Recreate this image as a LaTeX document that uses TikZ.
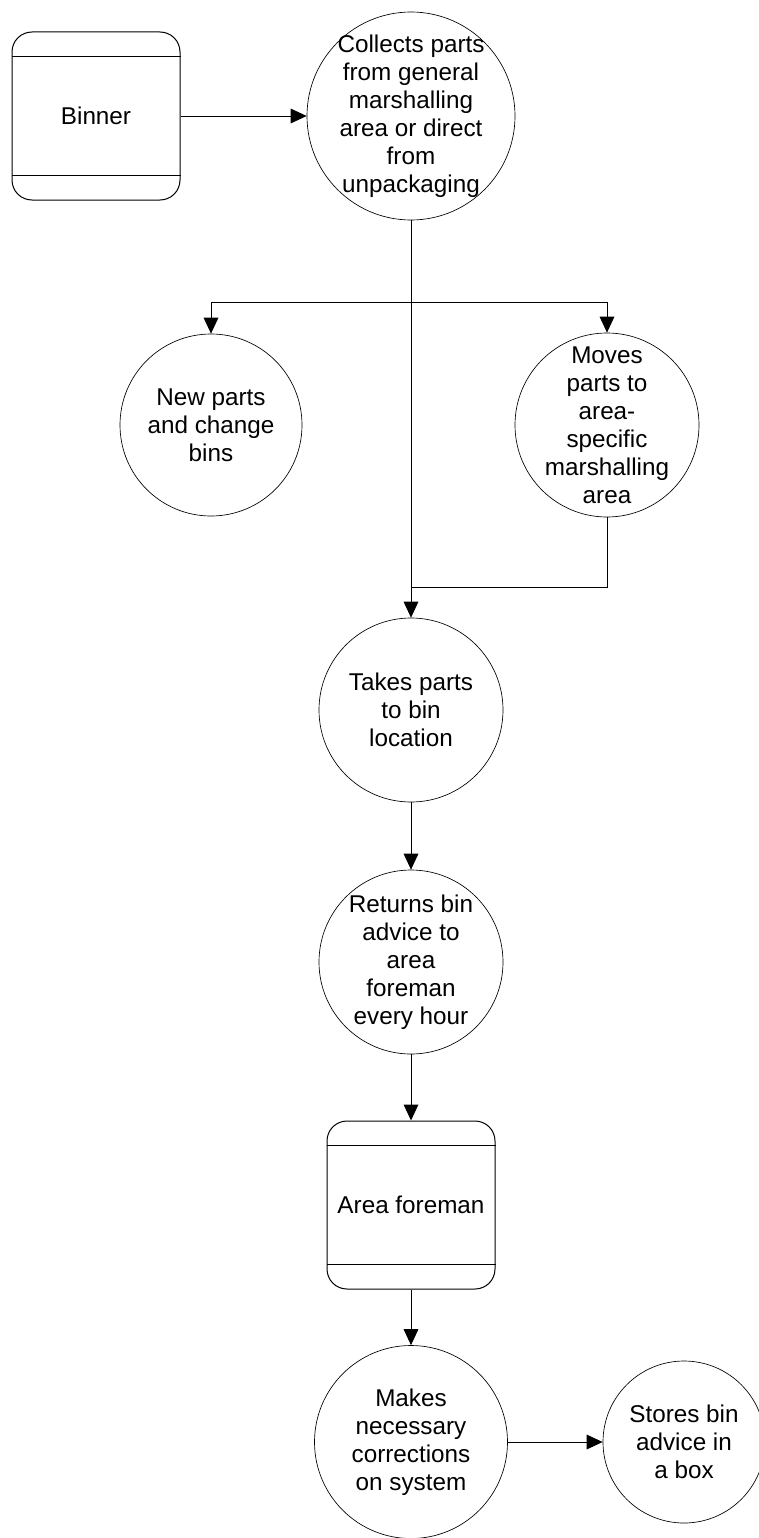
\documentclass[tikz,border=0pt]{standalone}
\usepackage{fontspec}
\setmainfont{Liberation Sans}
\usetikzlibrary{arrows.meta}

\begin{document}
\begin{tikzpicture}[
x=0.75pt, y=-0.75pt,
every node/.style={align=center, font=\fontsize{18.2}{21}\selectfont},
proc/.style={draw, circle, line width=0.5pt, inner sep=-14pt, minimum size=#1},
ext/.style={draw, rounded corners=15pt, line width=0.75pt, minimum width=126pt, minimum height=126pt, inner sep=0pt},
flow/.style={-{Triangle[length=12pt, width=11pt]}, line width=0.75pt}
]
\useasboundingbox (0,0) rectangle (759,1538);

\node[ext] (binner) at (96,116) {Binner};
\node[proc=156pt] (collect) at (411,116) {Collects parts\\from general\\marshalling\\area or direct\\from\\unpackaging};
\node[proc=136.5pt] (newparts) at (211,425) {New parts\\and change\\bins};
\node[proc=138pt] (moves) at (607,425) {Moves\\parts to\\area-\\specific\\marshalling\\area};
\node[proc=138pt] (takes) at (411,710) {Takes parts\\to bin\\location};
\node[proc=138pt] (returns) at (411,962) {Returns bin\\advice to\\area\\foreman\\every hour};
\node[ext] (foreman) at (411,1205) {Area foreman};
\node[proc=144.75pt] (makes) at (411,1442) {Makes\\necessary\\corrections\\on system};
\node[proc=121.5pt] (stores) at (684,1442) {Stores bin\\advice in\\a box};

\coordinate (split) at (411,302);
\coordinate (join) at (411,587);

\foreach \n in {binner,foreman} {
  \draw[line width=0.75pt] ([yshift=-18.75pt]\n.north west) -- ([yshift=-18.75pt]\n.north east);
  \draw[line width=0.75pt] ([yshift=18.75pt]\n.south west) -- ([yshift=18.75pt]\n.south east);
}

\draw[flow] (binner) -- (collect);
\draw[flow] (split) -| (newparts);
\draw[flow] (split) -| (moves);
\draw[flow] (collect) -- (takes);
\draw[line width=0.75pt] (moves) |- (join);
\draw[flow] (takes) -- (returns);
\draw[flow] (returns) -- (foreman);
\draw[flow] (foreman) -- (makes);
\draw[flow] (makes) -- (stores);
\end{tikzpicture}
\end{document}
